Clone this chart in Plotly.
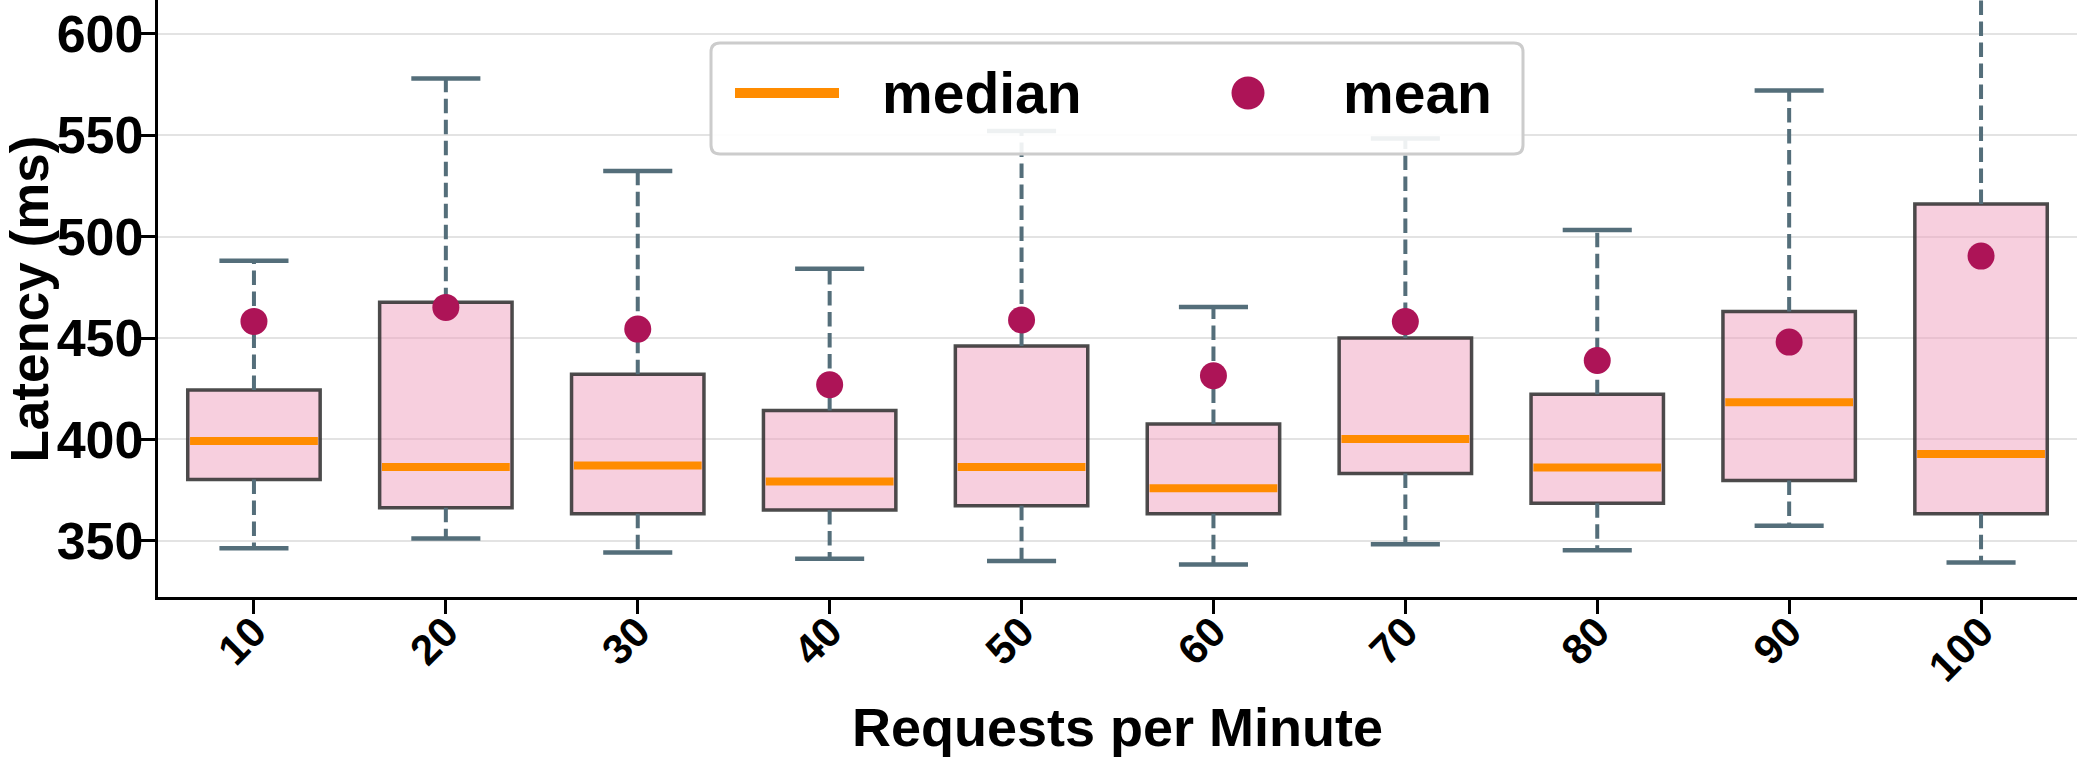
import plotly.graph_objects as go

# ---------------- data ----------------
rpm = ["10", "20", "30", "40", "50", "60", "70", "80", "90", "100"]
q1 = [380.3, 366.3, 363.4, 365.2, 367.3, 363.4, 383.2, 368.5, 379.8, 363.4]
median = [399.2, 386.4, 387.2, 379.3, 386.4, 375.9, 400.2, 386.2, 418.3, 392.8]
q3 = [424.4, 467.6, 432.1, 414.3, 446.1, 407.6, 450.0, 422.3, 463.1, 516.1]
whisker_low = [346.3, 351.2, 344.3, 341.2, 340.0, 338.3, 348.3, 345.3, 357.4, 339.3]
whisker_high = [488.1, 578.0, 532.4, 484.2, 552.1, 465.3, 548.4, 503.3, 572.1, 640.0]
mean = [458.2, 465.1, 454.4, 427.0, 458.9, 431.4, 458.1, 438.9, 448.0, 490.4]
y_ticks = [350, 400, 450, 500, 550, 600]

# ---------------- styles ----------------
W, H = 2077, 757
ML, MR, MT, MB = 158, 0, 0, 160
PW, PH = W - ML - MR, H - MT - MB
FONT = "Liberation Sans, Arial, sans-serif"
BOX_W = 0.69
CAP_HALF = 0.18
PINK = "rgba(240,160,190,0.5)"
EDGE = "rgba(45,45,45,0.85)"
WHISK = "#546E7A"
ORANGE = "#FF8C00"
MEAN_C = "#AD1457"

idx = list(range(len(rpm)))

fig = go.Figure()

# whiskers (dashed)
wx, wy = [], []
for i in idx:
    wx += [i, i, None, i, i, None]
    wy += [q3[i], whisker_high[i], None, q1[i], whisker_low[i], None]
fig.add_trace(go.Scatter(x=wx, y=wy, mode="lines", showlegend=False, hoverinfo="skip",
                         line=dict(color=WHISK, width=4, dash="14.5px,6.5px")))
# whisker caps
cx, cy = [], []
for i in idx:
    cx += [i - CAP_HALF, i + CAP_HALF, None, i - CAP_HALF, i + CAP_HALF, None]
    cy += [whisker_high[i], whisker_high[i], None, whisker_low[i], whisker_low[i], None]
fig.add_trace(go.Scatter(x=cx, y=cy, mode="lines", showlegend=False, hoverinfo="skip",
                         line=dict(color=WHISK, width=4.5)))
# boxes (Q1..Q3)
fig.add_trace(go.Bar(x=idx, base=q1, y=[q3[i] - q1[i] for i in idx], width=BOX_W,
                     marker=dict(color=PINK, line=dict(color=EDGE, width=3.5)),
                     showlegend=False, hoverinfo="skip"))
# medians
mx, my = [], []
for i in idx:
    mx += [i - BOX_W / 2 + 0.012, i + BOX_W / 2 - 0.012, None]
    my += [median[i], median[i], None]
fig.add_trace(go.Scatter(x=mx, y=my, mode="lines", name="median", showlegend=False,
                         line=dict(color=ORANGE, width=8)))
# means
fig.add_trace(go.Scatter(x=idx, y=mean, mode="markers", name="mean", showlegend=False,
                         marker=dict(color=MEAN_C, size=27, line=dict(width=0))))

# ---------------- manual legend (pixel-placed) ----------------
def px_x(p):
    return (p - ML) / PW

def px_y(p):
    return 1 - (p - MT) / PH

lx0, lx1, ly0, ly1 = px_x(711), px_x(1523), px_y(154), px_y(43)
rx, ry = 9 / PW, 9 / PH
path = (f"M {lx0+rx},{ly0} L {lx1-rx},{ly0} Q {lx1},{ly0} {lx1},{ly0+ry} "
        f"L {lx1},{ly1-ry} Q {lx1},{ly1} {lx1-rx},{ly1} L {lx0+rx},{ly1} "
        f"Q {lx0},{ly1} {lx0},{ly1-ry} L {lx0},{ly0+ry} Q {lx0},{ly0} {lx0+rx},{ly0} Z")
shapes = [
    dict(type="path", path=path, xref="paper", yref="paper", layer="above",
         fillcolor="rgba(255,255,255,0.9)", line=dict(color="#cccccc", width=3)),
    dict(type="line", xref="paper", yref="paper", layer="above",
         x0=px_x(735), x1=px_x(839), y0=px_y(93), y1=px_y(93),
         line=dict(color=ORANGE, width=10)),
    dict(type="circle", xref="paper", yref="paper", layer="above",
         xsizemode="pixel", ysizemode="pixel", xanchor=px_x(1248), yanchor=px_y(93),
         x0=-16.5, x1=16.5, y0=-16.5, y1=16.5, fillcolor=MEAN_C, line=dict(width=0)),
]

annotations = [
    dict(text="median", xref="paper", yref="paper", x=px_x(880), y=px_y(93),
         xanchor="left", yanchor="middle", showarrow=False,
         font=dict(family=FONT, size=57, color="black", weight="bold")),
    dict(text="mean", xref="paper", yref="paper", x=px_x(1341), y=px_y(93),
         xanchor="left", yanchor="middle", showarrow=False,
         font=dict(family=FONT, size=57, color="black", weight="bold")),
    # y-axis title placed explicitly
    dict(text="Latency (ms)", xref="paper", yref="paper", x=px_x(28.5), y=px_y(299),
         xanchor="center", yanchor="middle", textangle=-90, showarrow=False,
         font=dict(family=FONT, size=53, color="black", weight="bold")),
]

fig.update_layout(
    width=W, height=H,
    margin=dict(l=ML, r=MR, t=MT, b=MB, pad=0),
    paper_bgcolor="white", plot_bgcolor="white",
    font=dict(family=FONT, color="black", weight="bold"),
    showlegend=False,
    shapes=shapes, annotations=annotations,
    xaxis=dict(
        range=[-0.5, 9.5], tickmode="array", tickvals=idx, ticktext=rpm,
        tickangle=-45, tickfont=dict(size=42, family=FONT, weight="bold"),
        ticklabelstandoff=-24,
        showgrid=False, zeroline=False,
        showline=True, linecolor="black", linewidth=3.3,
        ticks="outside", ticklen=14, tickwidth=3, tickcolor="black",
        title=dict(text="Requests per Minute", font=dict(size=54, family=FONT, weight="bold"), standoff=20),
    ),
    yaxis=dict(
        range=[322.3, 616.7], tickmode="array", tickvals=y_ticks,
        tickfont=dict(size=52, family=FONT, weight="bold"),
        ticklabelstandoff=-14,
        showgrid=True, gridcolor="#e3e3e3", gridwidth=2, zeroline=False,
        showline=True, linecolor="black", linewidth=3.3,
        ticks="outside", ticklen=15, tickwidth=3, tickcolor="black",
    ),
)

fig.write_html("out.html")
